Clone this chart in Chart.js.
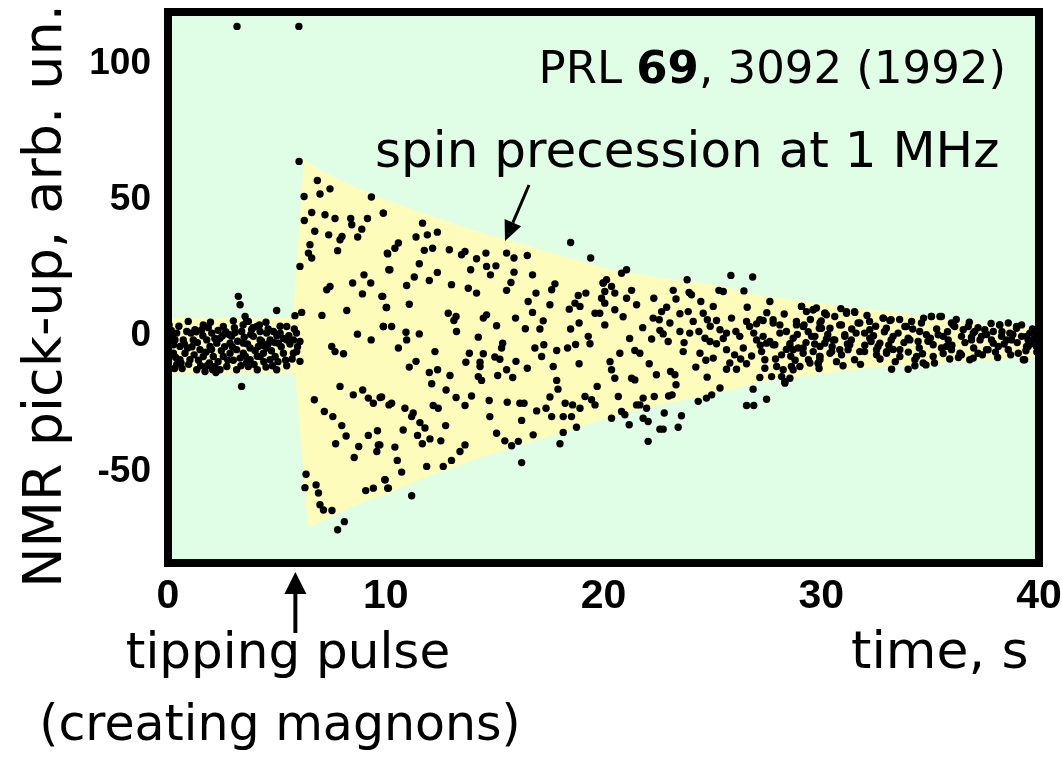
<!DOCTYPE html>
<html>
<head>
<meta charset="utf-8">
<script src="https://cdn.jsdelivr.net/npm/chart.js@4.4.1/dist/chart.umd.min.js"></script>
<style>
html,body{margin:0;padding:0;background:#ffffff;}
canvas{display:block;}
</style>
</head>
<body>
<canvas id="c" width="1062" height="758"></canvas>
<script>
// ---------- data (time in s, NMR pick-up in arb. units) ----------
const xTicks = [0, 10, 20, 30, 40];
const yTicks = [-50, 0, 50, 100];

// dots before the tipping pulse (0 - 6 s) and two off-scale outliers at the top
const preDots = [
[3.17,113.7],[6.01,113.7],
[3.23,14.5],[3.31,11.4],[4.99,9.3],[3.38,-18.6],[3.54,7.1],[3.69,5.3],
[0.93,5.3],[1.62,4.0],[1.55,2.2],[2.01,1.0],[2.54,3.4],[3.08,1.2],[2.92,-0.2],[3.38,1.6],[3.61,5.3],[3.84,2.2],
[4.07,3.4],[4.23,1.6],[4.53,1.0],[4.84,1.6],[5.15,1.0],[5.45,3.4],[5.76,-1.5],[6.06,-2.1],[5.91,-5.8],[6.06,-9.4],
[5.76,-6.4],[5.30,-6.4],[4.92,-7.6],[4.99,-12.5],[4.69,-8.8],[4.38,-6.4],[4.15,-3.9],[4.23,-1.5],[3.92,-0.2],
[3.46,-2.7],[3.15,-5.1],[2.85,-6.4],[2.54,-7.6],[2.70,-11.3],[2.39,-12.5],[2.16,-11.3],[1.70,-13.1],[1.32,-12.5],
[1.01,-8.8],[0.78,-6.4],[0.55,-3.9],[0.32,-1.5],[0.25,-6.4],[0.70,-1.5],[1.16,-1.5],[1.47,-5.1],[1.93,-3.9],
[2.24,-2.7],[2.08,-7.6],[1.62,-7.6],[3.15,-12.5],[3.69,-11.3],[3.77,-8.8],[3.31,-8.2],[0.40,1.0],[1.24,2.2],
[1.78,-1.5],[2.39,-0.9],[2.85,-2.7],[4.69,-1.5],[5.07,-2.7],[5.45,-1.5],[4.53,-4.5],[4.23,-7.6],[3.77,-4.5],
[3.46,-6.4],[0.55,-8.8],[0.86,1.6],[0.25,-3.3],
[0.10,-2.0],[0.15,2.0],[0.60,-10.0],[1.10,-4.0],[1.40,-9.0],[1.90,-10.0],[2.00,-5.0],[2.30,2.0],[2.60,-4.0],
[2.80,0.5],[3.00,-9.0],[3.50,-0.5],[3.60,-10.0],[4.00,-5.5],[4.40,-9.5],[4.60,-3.0],[4.80,-11.0],[5.00,0.0],
[5.20,-4.0],[5.40,-9.0],[5.60,-3.0],[5.90,1.0],[1.80,-11.0],[0.40,-10.5],[2.50,0.0],[3.90,3.0],[4.30,-2.0],
[1.30,1.5],[0.90,-4.5],
[0.05,4.0],[0.20,0.0],[0.35,-8.0],[0.50,3.5],[0.65,-12.0],[0.75,-3.0],[0.95,-10.5],[1.05,1.0],[1.20,-7.0],
[1.35,-2.5],[1.50,-11.0],[1.60,0.0],[1.75,-6.0],[1.85,3.0],[2.05,-12.5],[2.15,-1.0],[2.30,-9.5],[2.45,-5.5],
[2.65,1.5],[2.75,-9.0],[2.95,-4.0],[3.05,3.0],[3.20,-2.0],[3.35,-11.0],[3.45,4.0],[3.55,-7.5],[3.65,-3.0],
[3.80,0.5],[3.95,-10.5],[4.10,-7.5],[4.20,4.0],[4.35,-3.5],[4.50,-11.5],[4.60,2.5],[4.75,-5.5],[4.90,-2.5],
[5.05,-9.5],[5.15,3.5],[5.30,-1.0],[5.45,-11.0],[5.55,0.0],[5.70,-8.5],[5.80,2.5],[5.95,-4.0],[0.30,-12.0],
[1.95,5.0],[3.00,5.5],[4.50,5.0],[2.20,-13.5],[4.10,-12.5]
];

// dots right after the pulse (6 - 10 s)
const earlyDots = [
[6.02,64.1],[6.86,57.1],[7.44,54.0],[6.25,51.2],[6.98,52.1],[9.34,51.0],[6.60,45.3],[7.21,44.5],[7.67,43.1],
[8.39,43.1],[8.44,40.8],[9.16,43.1],[9.89,45.1],[6.26,42.4],[6.74,38.4],[7.38,37.1],[7.99,36.5],[7.90,35.3],
[8.71,36.3],[8.90,39.2],[6.52,33.5],[6.45,30.4],[6.60,28.6],[7.79,31.3],[10.09,30.1],[6.06,25.5],[10.14,24.3],
[9.00,22.4],[8.48,19.4],[9.31,19.4],[8.93,15.4],[9.82,14.5],[7.29,16.9],[7.44,18.1],[10.02,10.4],[8.21,9.3],
[7.07,7.5],[6.14,8.6],[5.83,7.4],[9.89,3.4],[8.70,0.6],[9.33,-1.5],[7.52,-3.9],[7.67,-5.8],[8.06,-6.6],
[7.90,-18.6],[8.51,-21.7],[8.94,-19.9],[9.20,-22.9],[9.43,-24.8],[9.74,-22.7],[10.15,-25.4],[6.72,-23.5],
[7.18,-27.8],[7.57,-29.7],[7.98,-33.0],[8.18,-36.8],[9.20,-36.6],[9.62,-34.9],[7.70,-39.7],[8.76,-40.7],
[8.55,-44.7],[9.66,-40.1],[9.59,-42.5],[6.34,-50.9],[6.29,-55.8],[6.80,-54.8],[6.91,-57.8],[6.98,-62.1],
[7.14,-64.0],[7.53,-64.2],[8.10,-68.3],[7.79,-71.3],[9.08,-56.9],[9.43,-56.0],[9.97,-52.9],[10.09,-56.0]
];

// dots 10 - 20 s
const midDots = [
[9.89,45.1],[11.69,41.4],[11.39,36.3],[11.91,37.1],[12.37,38.1],[10.58,34.1],[10.42,32.2],[10.07,30.4],
[11.77,31.4],[12.15,32.2],[12.92,31.6],[13.48,29.8],[13.64,31.0],[14.17,28.3],[14.60,30.4],[15.55,30.4],
[15.89,28.6],[16.50,29.5],[18.49,34.3],[19.41,28.6],[14.63,25.5],[15.06,25.7],[13.90,24.3],[14.81,22.4],
[15.89,23.4],[16.74,22.4],[11.54,26.5],[10.19,24.3],[11.31,21.6],[12.37,23.3],[12.00,20.3],[10.96,18.5],
[13.02,18.8],[13.79,17.5],[14.17,15.7],[15.55,16.7],[15.75,19.6],[16.90,15.7],[17.77,19.1],[17.62,16.9],
[16.54,12.6],[17.54,11.4],[18.69,12.0],[18.92,10.8],[19.19,15.7],[18.84,14.8],[18.43,9.8],[19.99,19.4],
[20.06,12.0],[19.61,8.3],[9.86,14.5],[10.04,10.4],[11.08,11.6],[12.87,8.3],[13.23,7.1],[13.13,5.6],
[14.63,7.7],[14.48,6.5],[15.96,6.5],[16.74,8.6],[17.23,5.5],[17.08,2.5],[16.41,2.6],[15.09,3.7],[14.25,-0.5],
[13.25,1.6],[11.54,0.7],[10.93,1.3],[10.96,-1.5],[9.89,3.4],[10.27,3.4],[10.58,-4.5],[12.26,-5.8],[11.39,-9.4],
[11.08,-11.5],[12.00,-13.5],[12.38,-12.5],[12.95,-14.6],[12.11,-17.6],[12.77,-19.9],[13.23,-22.7],[13.64,-25.6],
[13.94,-22.1],[14.33,-9.7],[14.33,-11.3],[14.25,-15.0],[14.40,-16.4],[13.84,-6.4],[13.68,-9.7],[14.48,-6.6],
[15.01,-7.8],[15.24,-8.6],[15.37,-2.7],[15.32,-4.5],[15.98,-9.4],[15.55,-12.5],[15.83,-15.3],[15.14,-14.6],
[16.50,-11.9],[16.85,-4.5],[17.26,-3.3],[17.16,-7.6],[17.69,-11.3],[17.85,-5.4],[18.35,-4.5],[18.72,-3.2],
[18.88,-10.3],[19.30,-0.2],[19.38,-2.9],[18.49,2.5],[18.88,4.7],[19.71,-18.6],[19.15,-22.3],[19.45,-23.5],
[19.61,-25.4],[18.92,-26.6],[18.58,-25.4],[18.24,-24.8],[18.15,-29.7],[18.53,-29.7],[18.76,-33.6],[18.15,-35.5],
[18.00,-39.7],[17.62,-29.7],[17.85,-16.4],[17.91,-19.6],[17.54,-22.5],[17.36,-26.6],[16.93,-27.6],[16.24,-31.1],
[16.16,-24.8],[16.35,-24.8],[16.77,-36.4],[16.09,-38.8],[15.78,-40.4],[15.47,-38.6],[15.09,-35.8],[15.58,-24.4],
[14.75,-23.8],[14.78,-29.7],[13.64,-40.1],[13.41,-42.5],[13.02,-45.8],[12.64,-48.0],[11.88,-48.0],[12.53,-38.6],
[12.03,-37.9],[11.68,-39.7],[11.46,-36.6],[10.80,-34.6],[10.42,-40.9],[10.53,-45.8],[10.73,-50.1],[9.96,-52.9],
[10.12,-56.0],[11.19,-58.8],[16.24,-46.6],[12.75,-33.0],[11.57,-31.9],[11.80,-33.9],[11.19,-29.7],[11.26,-28.4],
[10.88,-26.6],[10.27,-24.8],[9.81,-22.5],[12.18,-25.6],[12.41,-26.6],[9.73,-40.1]
];

// dots 20 - 30 s
const lateDots = [
[21.06,24.3],[20.83,23.0],[20.14,20.6],[19.98,19.4],[20.37,18.1],[20.06,16.3],[19.91,13.8],[20.52,15.7],
[21.29,16.7],[21.06,13.8],[21.52,11.4],[20.52,9.6],[20.06,4.0],[19.83,8.3],[23.84,20.6],[23.20,16.7],
[23.33,13.5],[23.93,15.9],[24.04,15.1],[24.47,12.6],[25.04,10.8],[25.30,16.7],[25.50,16.3],[25.85,22.2],
[26.85,21.6],[26.45,16.5],[27.64,12.6],[22.31,13.8],[22.67,8.9],[22.28,6.5],[22.56,5.9],[23.51,8.1],
[23.05,4.7],[23.89,8.9],[24.12,5.3],[24.58,8.3],[24.77,5.9],[25.19,5.6],[25.88,6.5],[26.57,5.3],[27.03,4.4],
[27.33,5.6],[27.79,5.9],[28.10,4.0],[28.40,1.6],[28.86,5.3],[29.09,10.8],[29.32,8.9],[29.63,9.6],[30.17,8.3],
[29.21,4.0],[29.91,2.8],[30.24,-1.2],[22.21,-1.2],[22.59,2.0],[22.74,0.7],[22.97,-2.1],[23.51,1.6],[23.96,1.0],
[24.38,1.6],[24.66,-0.9],[24.89,-2.1],[25.19,-2.9],[25.35,2.2],[25.65,1.0],[26.08,1.6],[26.26,-0.2],[26.71,3.4],
[27.03,-1.5],[25.65,-5.1],[26.02,-7.0],[26.42,-4.5],[26.80,-7.4],[27.26,-5.8],[27.64,-2.1],[27.87,-3.3],
[28.18,-7.0],[28.56,-2.9],[28.71,-5.1],[28.94,-4.5],[29.17,-6.4],[29.41,-8.8],[29.63,-5.8],[29.93,-7.6],
[29.86,-10.3],[29.02,-11.3],[28.63,-11.3],[28.25,-12.5],[28.18,-15.0],[28.56,-15.6],[28.33,-17.4],[27.72,-15.0],
[27.41,-11.9],[27.18,-15.3],[26.57,-10.3],[26.11,-12.3],[25.65,-12.3],[25.04,-8.2],[24.76,-15.2],[24.24,-11.5],
[24.43,-6.4],[23.66,-5.8],[23.08,-13.1],[22.43,-14.3],[22.10,-10.3],[21.44,-5.4],[21.67,-6.4],[20.75,-6.4],
[20.37,-12.5],[20.52,-15.6],[21.29,-15.6],[21.44,-16.2],[23.33,-18.0],[22.99,-22.1],[23.15,-21.7],[22.33,-22.3],
[21.82,-22.9],[21.67,-25.4],[21.52,-25.4],[21.98,-26.6],[20.68,-22.3],[20.83,-27.8],[20.98,-29.0],[20.37,-30.3],
[21.18,-32.7],[21.82,-30.3],[22.05,-31.5],[22.59,-34.3],[22.74,-34.3],[22.05,-38.8],[22.79,-28.4],[23.58,-29.4],
[23.43,-33.6],[24.35,-24.1],[24.73,-22.9],[24.97,-21.7],[25.35,-19.2],[26.87,-19.6],[27.49,-23.3],[26.57,-25.6],
[26.90,-25.6],[23.28,-14.3],
[24.90,3.5],[25.50,-1.0],[26.30,-8.5],[26.90,1.0],[27.20,-3.5],[27.50,8.5],[27.90,-8.5],[28.40,-5.0],[28.80,-9.0],
[29.40,1.5],[29.70,-3.0],[26.60,10.5],[25.80,-10.0],[24.70,-9.0],[23.70,-2.5],[22.90,10.5],[21.80,3.0],[21.20,-1.0],
[20.90,7.0],[20.30,-9.5]
];

// dots 27 - 40 s (dense tail)
const tailDots = [
[29.78,10.2],[30.16,8.3],[31.16,8.9],[31.53,8.9],[30.62,7.1],[29.94,4.7],[30.40,2.8],[30.93,4.0],[31.69,4.7],
[32.22,5.3],[32.84,6.5],[33.21,5.9],[32.99,2.8],[33.84,3.4],[34.15,5.3],[34.60,4.7],[35.06,7.1],[35.52,7.1],
[35.98,4.7],[36.13,3.4],[36.75,3.4],[37.05,1.6],[37.51,2.2],[38.19,4.0],[38.59,4.7],[38.97,2.8],[29.71,-0.2],
[30.16,-2.7],[30.62,-1.5],[31.08,-0.2],[31.38,-1.5],[31.99,1.0],[32.29,-2.1],[32.61,-3.9],[33.21,-1.5],
[33.53,1.0],[33.99,-0.9],[34.45,-2.1],[35.01,-0.9],[35.37,0.4],[35.83,-1.5],[36.44,-0.2],[36.90,-1.5],
[37.36,-0.2],[37.82,-1.5],[38.28,-0.2],[38.74,-1.5],[39.20,-0.2],[39.50,-1.5],[39.58,1.0],[29.94,-7.6],
[29.86,-10.0],[30.48,-5.8],[30.93,-7.0],[31.53,-8.8],[31.23,-5.1],[31.99,-5.8],[32.54,-7.0],[33.00,-5.8],
[33.23,-12.3],[33.99,-12.3],[33.61,-7.6],[34.30,-8.8],[34.81,-10.7],[34.65,-6.6],[35.14,-7.6],[35.52,-4.5],
[35.98,-5.1],[36.44,-7.0],[36.82,-8.8],[37.20,-6.4],[37.66,-5.1],[38.13,-3.9],[38.59,-5.1],[39.05,-6.4],
[39.34,-8.8],[39.50,-3.9],
[29.10,10.8],[29.63,9.6],[30.24,7.7],[31.16,8.3],[31.54,8.6],[32.85,6.5],[33.15,5.6],[35.06,7.1],[35.45,7.1],
[27.18,5.9],[27.79,4.7],[28.86,4.0],[29.17,3.4],[30.01,2.8],[30.85,4.0],[31.77,4.7],[32.23,2.2],[33.91,3.4],
[34.52,1.6],[36.06,4.0],[36.52,2.2],[38.20,4.0],[38.97,3.4],[27.49,-2.7],[27.79,-3.3],[28.56,-3.9],[29.17,-4.5],
[29.94,-3.9],[30.40,-6.4],[30.85,-5.1],[31.31,-3.3],[31.77,-5.8],[32.54,-5.1],[33.00,-6.4],[33.61,-5.1],
[34.38,-7.6],[35.14,-3.3],[35.75,-3.9],[36.37,-6.4],[36.98,-8.2],[37.59,-5.1],[37.90,-2.7],[38.51,-1.5],
[39.28,-8.8],[39.43,-3.9],[39.74,-1.5],[27.41,-8.8],[27.95,-11.3],[28.33,-16.8],[28.71,-12.5],[29.48,-10.0],
[29.94,-8.8],[34.68,-10.0],[27.33,-0.2],[28.10,1.0],[28.71,-0.9],[29.56,-0.2],[30.55,-1.5],[31.08,0.4],
[32.23,-0.9],[32.69,-2.7],[33.30,-0.2],[34.07,-1.5],[34.83,0.4],[35.60,-0.2],[36.98,1.0],[37.29,-1.5],
[37.90,1.6],[38.66,1.0],[39.43,-0.2],[39.88,1.0],[39.88,-3.9],
[28.30,8.0],[28.60,-7.5],[28.90,0.5],[29.30,-2.5],[29.50,6.0],[29.90,-12.0],[30.30,0.5],[30.70,-9.5],[30.90,10.0],
[31.20,-3.0],[31.40,2.5],[31.80,-10.5],[32.00,-3.5],[32.10,7.5],[32.40,0.0],[32.70,-8.5],[32.90,1.5],[33.10,-3.5],
[33.40,-9.5],[33.60,6.0],[33.80,-2.5],[34.00,-6.0],[34.20,2.5],[34.50,-4.5],[34.70,6.5],[34.90,-2.0],[35.20,-10.0],
[35.30,2.5],[35.60,-6.5],[35.80,1.5],[36.00,-3.5],[36.20,6.0],[36.30,-8.0],[36.60,-2.5],[36.80,5.0],[37.00,-4.5],
[37.20,3.0],[37.40,-7.0],[37.60,0.5],[37.80,4.5],[38.00,-6.0],[38.30,1.5],[38.40,-3.0],[38.70,-7.0],[38.80,0.5],
[39.00,-2.5],[39.20,4.0],[39.40,-5.5],[39.60,-3.0],[39.70,2.5],[39.90,-6.0],[39.80,-1.0],[30.00,5.5],[30.50,-4.0],
[31.00,-11.0],[31.60,1.0],[32.50,3.5],[33.30,-5.0],[34.30,-11.0],[35.90,-8.5],[36.90,-0.5],[38.10,-8.0]
];

// outline of the yellow envelope (clockwise)
const envelopeUpper = [
[0,6.5],[5.74,6.5],[6.24,64.7],[7,61],[8,57],[9,53.3],[10.2,49.5],[11.5,45.8],[12.5,43],[14,39],[15.6,35.3],
[17,32],[18.5,28.5],[20.3,24.5],[22.5,21.5],[25,19],[27.2,15],[30.4,11.5],[33,9],[35,6.8],[37.5,4.6],[40,2.5]
];
const envelopeLower = [
[40,-7.5],[37.5,-8.7],[35,-10],[33,-11],[30.4,-13.5],[27.2,-17],[25,-21.5],[22.5,-25.5],[20.3,-29.8],[18,-35.5],
[16,-40.5],[14.3,-44.8],[12.5,-50],[11.5,-53],[10.2,-57.7],[9,-61],[8,-64.5],[7,-68.3],[6.43,-70.2],[5.83,-13.6],[0,-13.6]
];

// ---------- styling ----------
const GREEN = '#e0fde6';
const YELLOW = '#fdfcbb';
const toXY = arr => arr.map(p => ({x: p[0], y: p[1]}));
const allDots = [].concat(preDots, earlyDots, midDots, lateDots, tailDots);

const deco = {
  id: 'deco',
  beforeDatasetsDraw(chart) {
    const {ctx, chartArea: a} = chart;
    ctx.save();
    ctx.fillStyle = GREEN;
    ctx.fillRect(a.left, a.top, a.right - a.left, a.bottom - a.top);
    ctx.restore();
  },
  afterDatasetsDraw(chart) {
    const {ctx, chartArea: a} = chart;
    ctx.save();
    ctx.strokeStyle = '#000';
    ctx.lineWidth = 8;
    ctx.strokeRect(a.left, a.top, a.right - a.left, a.bottom - a.top);
    ctx.restore();
  },
  afterDraw(chart) {
    const {ctx} = chart;
    const xs = chart.scales.x;
    ctx.save();
    ctx.fillStyle = '#000';
    ctx.strokeStyle = '#000';
    ctx.textBaseline = 'alphabetic';

    // PRL reference, right aligned
    const parts = [['PRL ', false], ['69', true], [', 3092 (1992)', false]];
    const fN = '45px "DejaVu Sans"', fB = 'bold 45px "DejaVu Sans"';
    let total = 0;
    parts.forEach(p => { ctx.font = p[1] ? fB : fN; total += ctx.measureText(p[0]).width; });
    let x = 1006 - total;
    parts.forEach(p => { ctx.font = p[1] ? fB : fN; ctx.fillText(p[0], x, 83); x += ctx.measureText(p[0]).width; });

    // spin precession label
    ctx.font = '50px "DejaVu Sans"';
    ctx.textAlign = 'left';
    ctx.fillText('spin precession at 1 MHz', 375, 167);

    // arrow to envelope
    arrow(ctx, 529, 185, 505, 241, 3, 20, 9);

    // y-axis title
    ctx.save();
    ctx.translate(61, 296);
    ctx.rotate(-Math.PI / 2);
    ctx.font = '54px "DejaVu Sans"';
    ctx.textAlign = 'center';
    ctx.fillText('NMR pick-up, arb. un.', 0, 0);
    ctx.restore();

    // x-axis title
    ctx.font = '52px "DejaVu Sans"';
    ctx.textAlign = 'left';
    ctx.fillText('time, s', 851, 668);

    // tipping pulse annotation
    const px = xs.getPixelForValue(5.85);
    arrow(ctx, px, 633, px, 572, 4, 22, 11);
    ctx.textAlign = 'center';
    ctx.font = '50px "DejaVu Sans"';
    ctx.fillText('tipping pulse', 288, 668);
    ctx.font = '49px "DejaVu Sans"';
    ctx.fillText('(creating magnons)', 280, 740);
    ctx.restore();
  }
};

function arrow(ctx, x1, y1, x2, y2, lw, headLen, headHalf) {
  const ang = Math.atan2(y2 - y1, x2 - x1);
  const bx = x2 - headLen * Math.cos(ang), by = y2 - headLen * Math.sin(ang);
  ctx.beginPath();
  ctx.lineWidth = lw;
  ctx.moveTo(x1, y1);
  ctx.lineTo(bx, by);
  ctx.stroke();
  ctx.beginPath();
  ctx.moveTo(x2, y2);
  ctx.lineTo(bx + headHalf * Math.sin(ang), by - headHalf * Math.cos(ang));
  ctx.lineTo(bx - headHalf * Math.sin(ang), by + headHalf * Math.cos(ang));
  ctx.closePath();
  ctx.fill();
}

new Chart(document.getElementById('c'), {
  type: 'scatter',
  data: {
    datasets: [
      {
        label: 'NMR pick-up',
        data: toXY(allDots),
        backgroundColor: '#000',
        borderWidth: 0,
        pointRadius: 3.7,
        pointHoverRadius: 3.7,
        order: 0
      },
      {
        type: 'line',
        label: 'envelope',
        data: toXY(envelopeUpper.concat(envelopeLower)),
        backgroundColor: YELLOW,
        borderWidth: 0,
        borderColor: 'rgba(0,0,0,0)',
        pointRadius: 0,
        tension: 0,
        fill: 'shape',
        order: 1
      }
    ]
  },
  options: {
    responsive: false,
    animation: false,
    devicePixelRatio: 1,
    events: [],
    layout: {padding: {left: 0, right: 23, top: 12, bottom: 0}},
    plugins: {legend: {display: false}, tooltip: {enabled: false}},
    scales: {
      x: {
        type: 'linear',
        min: 0, max: 40,
        grid: {display: false, drawTicks: false},
        border: {display: false},
        afterBuildTicks: s => { s.ticks = xTicks.map(v => ({value: v})); },
        afterFit: s => { s.height = 195; s.paddingLeft = 0; s.paddingRight = 0; },
        ticks: {
          color: '#000',
          padding: 9,
          maxRotation: 0,
          autoSkip: false,
          font: {family: '"Liberation Sans", Arial, sans-serif', weight: 'bold', size: 41}
        }
      },
      y: {
        type: 'linear',
        min: -83.5, max: 119,
        grid: {display: false, drawTicks: false},
        border: {display: false},
        afterBuildTicks: s => { s.ticks = yTicks.map(v => ({value: v})); },
        afterFit: s => { s.width = 168; s.paddingTop = 0; s.paddingBottom = 0; },
        ticks: {
          color: '#000',
          padding: 17,
          autoSkip: false,
          font: {family: '"Liberation Sans", Arial, sans-serif', weight: 'bold', size: 37}
        }
      }
    }
  },
  plugins: [deco]
});
</script>
</body>
</html>
